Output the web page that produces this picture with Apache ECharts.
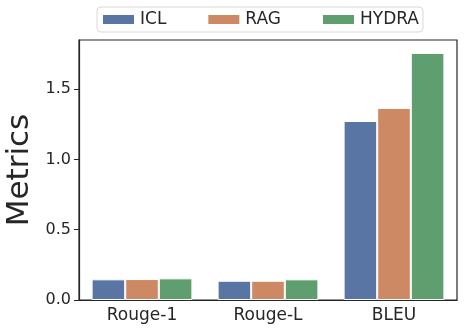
<!DOCTYPE html>
<html>
<head>
<meta charset="UTF-8" />
<script src="https://cdn.jsdelivr.net/npm/echarts@6/dist/echarts.min.js"></script>
<style>
  html, body { margin: 0; padding: 0; background: #fff; }
  #main { width: 465px; height: 335px; }
</style>
</head>
<body>
<div id="main"></div>
<script>
  const categories = ['Rouge-1', 'Rouge-L', 'BLEU'];
  const methods = ['ICL', 'RAG', 'HYDRA'];
  const iclValues = [0.147, 0.137, 1.273];
  const ragValues = [0.149, 0.137, 1.366];
  const hydraValues = [0.154, 0.147, 1.757];
  const colors = ['#5975a4', '#cc8963', '#5f9e6e'];

  const chart = echarts.init(document.getElementById('main'));
  const font = 'DejaVu Sans';
  const seriesData = [iclValues, ragValues, hydraValues];

  chart.setOption({
    backgroundColor: '#ffffff',
    animation: false,
    textStyle: { fontFamily: font },
    legend: {
      top: 7,
      left: 97,
      data: methods,
      icon: 'rect',
      itemWidth: 33,
      itemHeight: 11,
      itemGap: 40,
      padding: [4, 4, 4, 4],
      borderColor: '#d9d9d9',
      borderWidth: 1,
      borderRadius: 4,
      textStyle: { fontFamily: font, fontSize: 17, color: '#262626' }
    },
    grid: {
      left: 79, right: 8, top: 40, bottom: 35,
      outerBoundsMode: 'none',
      containLabel: false,
      show: true, borderColor: '#262626', borderWidth: 1.2
    },
    xAxis: {
      type: 'category',
      data: categories,
      axisLine: { lineStyle: { color: '#262626', width: 1.2 } },
      axisTick: { alignWithLabel: true, length: 5, lineStyle: { color: '#262626' } },
      axisLabel: { fontSize: 17, color: '#262626', margin: 7 }
    },
    yAxis: {
      type: 'value',
      min: 0, max: 1.849, interval: 0.5,
      name: 'Metrics',
      nameLocation: 'middle',
      nameGap: 44,
      nameMoveOverlap: false,
      nameTextStyle: { fontSize: 31, color: '#262626', fontFamily: font },
      splitLine: { show: false },
      axisLine: { show: true, lineStyle: { color: '#262626', width: 1.2 } },
      axisTick: { show: true, length: 5, lineStyle: { color: '#262626' } },
      axisLabel: {
        fontSize: 16, color: '#262626', margin: 8,
        formatter: v => v.toFixed(1),
        showMaxLabel: false
      }
    },
    series: methods.map((m, i) => ({
      name: m,
      type: 'bar',
      data: seriesData[i],
      barGap: '0%',
      barCategoryGap: '20%',
      itemStyle: { color: colors[i], borderColor: '#ffffff', borderWidth: 1 }
    }))
  });
</script>
</body>
</html>
